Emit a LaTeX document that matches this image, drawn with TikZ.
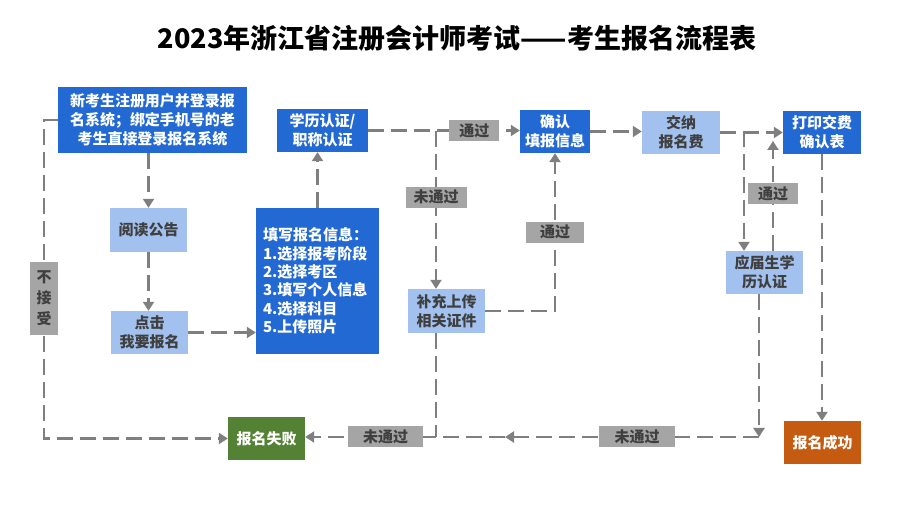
\documentclass[tikz,border=0pt]{standalone}
\usepackage{fontspec}
\setmainfont{Noto Sans CJK SC}
\usetikzlibrary{arrows.meta}
\definecolor{darkblue}{HTML}{2369D3}
\definecolor{lightblue}{HTML}{A3C1EE}
\definecolor{taggray}{HTML}{A5A5A5}
\definecolor{linegray}{HTML}{7F7F7F}
\definecolor{textgray}{HTML}{3F3F3F}
\definecolor{failgreen}{HTML}{548235}
\definecolor{succorange}{HTML}{C55A11}
\begin{document}
\begin{tikzpicture}[x=1pt,y=-1pt,
	box/.style={rectangle,inner sep=0pt,align=center,font=\bfseries\fontsize{15}{19}\selectfont},
	dark/.style={box,fill=darkblue,text=white},
	light/.style={box,fill=lightblue,text=textgray},
	tag/.style={rectangle,fill=taggray,text=textgray,inner sep=0pt,align=center,minimum height=21pt,font=\bfseries\fontsize{15}{21}\selectfont},
	plain/.style={draw=linegray,line width=2.6pt,dash pattern=on 16pt off 7pt},
	conn/.style={plain,-{Triangle[length=9pt,width=11pt]}}]
\useasboundingbox (0,0) rectangle (914,510);
\node[font=\bfseries\fontsize{27}{30}\selectfont] (title) at (457,38) {2023年浙江省注册会计师考试——考生报名流程表};

\node[dark,minimum width=189pt,minimum height=66pt] (reg) at (152.5,120) {新考生注册用户并登录报\\名系统；绑定手机号的老\\考生直接登录报名系统};
\node[light,minimum width=77pt,minimum height=44pt] (read) at (148.5,230) {阅读公告};
\node[light,minimum width=77pt,minimum height=43pt] (click) at (149.5,332.5) {点击\\我要报名};
\node[dark,text width=109pt,inner sep=7pt,minimum height=146pt,align=left,font=\bfseries\fontsize{15}{18.4}\selectfont] (fill) at (317.5,281) {填写报名信息：\\1.选择报考阶段\\2.选择考区\\3.填写个人信息\\4.选择科目\\5.上传照片};
\node[dark,minimum width=91pt,minimum height=43pt] (cert) at (322.5,130.5) {学历认证/\\职称认证};
\node[dark,minimum width=70pt,minimum height=43pt] (confirm) at (555,131.5) {确认\\填报信息};
\node[light,minimum width=77pt,minimum height=44pt] (supp) at (446.5,311) {补充上传\\相关证件};
\node[light,minimum width=78pt,minimum height=43pt] (pay) at (681,132.5) {交纳\\报名费};
\node[dark,minimum width=78pt,minimum height=43pt] (print) at (822,132.5) {打印交费\\确认表};
\node[light,minimum width=77pt,minimum height=43pt] (fresh) at (764.5,272.5) {应届生学\\历认证};
\node[box,fill=failgreen,text=white,minimum width=77pt,minimum height=43pt] (fail) at (266.5,438.5) {报名失败};
\node[box,fill=succorange,text=white,minimum width=77pt,minimum height=43pt] (succ) at (822.5,442.5) {报名成功};

\coordinate (b1) at (436,131);
\coordinate (b2) at (744,131);
\coordinate (j1) at (436,437);
\coordinate (c3) at (759,437);
\coordinate (c4) at (505,437);
\coordinate (up) at (773,141);
\coordinate (lc) at (44,120);

\draw[conn] (reg.south -| read.north) -- (read.north);
\draw[conn] (read.south) -- (read.south |- click.north);
\draw[conn] (click.east) -- (click.east -| fill.west);
\draw[conn] (fill.north) -- (fill.north |- cert.south);
\draw[conn] (cert.east) -- node[tag,minimum width=50pt,pos=0.7] {通过} (cert.east -| confirm.west);
\draw[conn] (b1) -- node[tag,minimum width=61pt,pos=0.42] {未通过} (b1 |- supp.north);
\draw[conn] (supp.east) -| node[tag,minimum width=58pt,pos=0.75] {通过} (confirm.south);
\draw[plain] (supp.south -| j1) -- (j1);
\draw[conn] (j1) -- node[tag,minimum width=75pt,pos=0.385] {未通过} (j1 -| fail.east);
\draw[conn] (fresh.south -| c3) -- (c3);
\draw[conn] (c3) -- node[tag,minimum width=76pt,pos=0.48] {未通过} (c4);
\draw[plain] (c4) -- (j1);
\draw[conn] (confirm.east) -- (confirm.east -| pay.west);
\draw[conn] (pay.east) -- (print.west);
\draw[conn] (b2) -- (b2 |- fresh.north);
\draw[conn] (fresh.north -| up) -- node[tag,minimum width=50pt,pos=0.52] {通过} (up);
\draw[conn] (print.south) -- (print.south |- succ.north);
\draw[conn] (reg.west) -- (lc) -- node[tag,minimum width=28pt,minimum height=73pt,pos=0.56] {不\\接\\受} (lc |- fail) -- (fail.west);
\end{tikzpicture}
\end{document}
